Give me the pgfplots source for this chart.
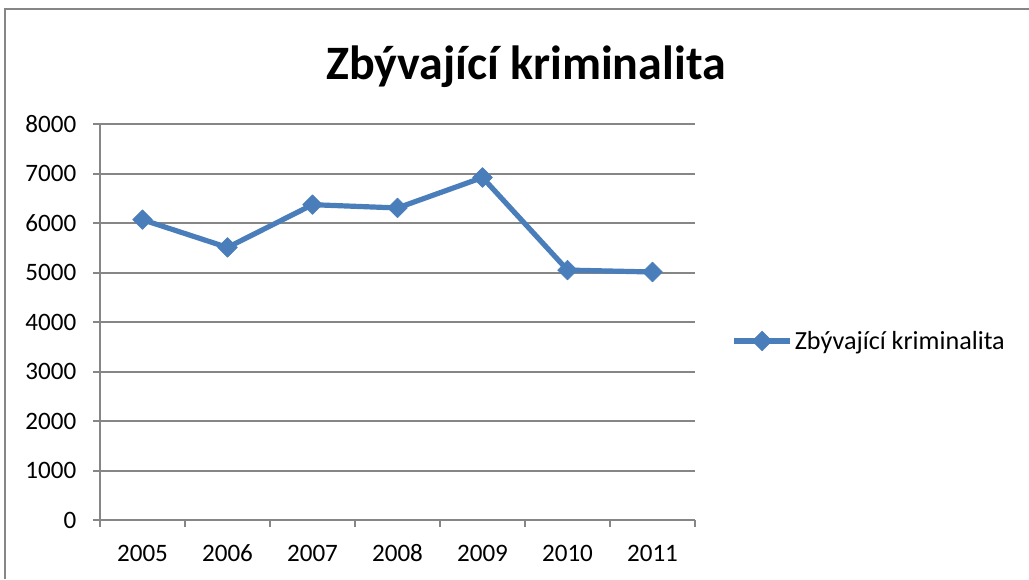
\documentclass[border=0pt]{standalone}
\usepackage{fontspec}
\setmainfont{Carlito}
\usepackage{pgfplots}
\pgfplotsset{compat=1.18}
\definecolor{ser}{HTML}{4A7EBB}
\definecolor{grd}{HTML}{868686}
\begin{document}
\begin{tikzpicture}
\path[use as bounding box] (0,0) rectangle (771.75pt,434.25pt);
\draw[grd, line width=1.2pt] (3.75pt,0) -- (3.75pt,427.5pt) -- (771.75pt,427.5pt);
\node[anchor=base, inner sep=0pt, font=\fontsize{36}{43}\selectfont\bfseries] at (394.5pt,374.25pt) {Zbývající kriminalita};
\begin{axis}[
  at={(75pt,44.25pt)}, anchor=south west,
  scale only axis, width=446.25pt, height=297pt,
  xmin=-0.5, xmax=6.5, ymin=0, ymax=8000,
  xtick={0,...,6}, xticklabels={2005,2006,2007,2008,2009,2010,2011},
  minor xtick={-0.5,0.5,...,6.5},
  ytick={0,1000,...,8000},
  axis x line*=bottom, axis y line*=left,
  axis line style={grd, line width=1.5pt, -},
  tick align=outside,
  major tick length=5.25pt, minor tick length=5.25pt,
  major x tick style={draw=none},
  minor x tick style={grd, line width=1.5pt},
  major y tick style={grd, line width=1.5pt},
  ymajorgrids, major grid style={grd, line width=1.5pt},
  tick label style={font=\fontsize{18.8}{22}\selectfont},
  xticklabel style={yshift=-10pt, text height=12.2pt, text depth=0pt},
  yticklabel style={xshift=-9pt},
  /pgf/number format/assume math mode=true,
  /pgf/number format/1000 sep={},
  legend style={at={(1.061,0.452)}, anchor=west, draw=none, fill=none,
    font=\fontsize{19.6}{23}\selectfont, inner sep=0pt, nodes={inner sep=1.5pt}},
  legend cell align=left,
  legend image code/.code={\draw[#1,mark repeat=2,mark phase=2] plot coordinates {(0pt,0pt)(21pt,0pt)(42pt,0pt)};},
  clip=false,
]
\addplot[ser, line width=3.9pt, line join=round, mark=square*, mark size=5.2pt,
  mark options={rotate=45, line width=0.5pt, solid, fill=ser}]
  coordinates {(0,6067) (1,5506) (2,6370) (3,6304) (4,6919) (5,5049) (6,5010)};
\addlegendentry{Zbývající kriminalita}
\end{axis}
\end{tikzpicture}
\end{document}
